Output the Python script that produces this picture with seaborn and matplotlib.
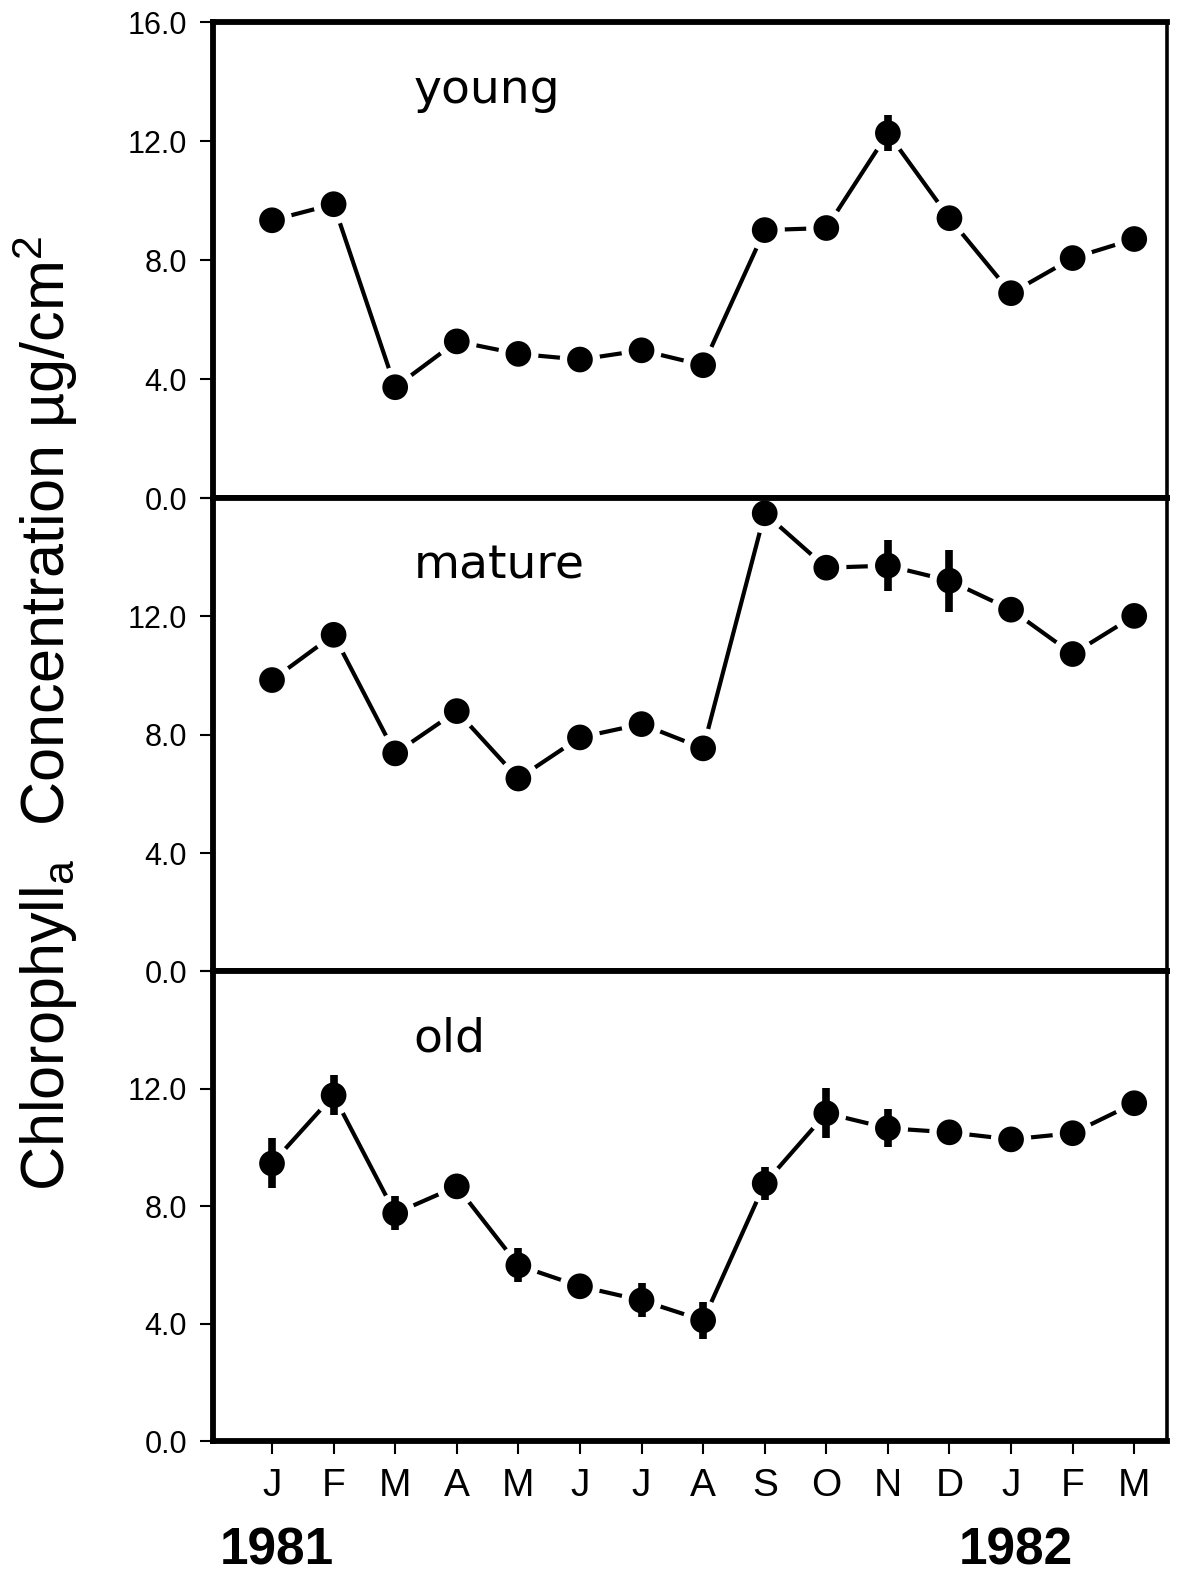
import numpy as np
import matplotlib
matplotlib.use("Agg")
import matplotlib.pyplot as plt
import matplotlib.transforms as mtransforms
import seaborn as sns

# ---------------- data ----------------
months = ["J", "F", "M", "A", "M", "J", "J", "A", "S", "O", "N", "D", "J", "F", "M"]
years = ["1981", "1982"]
year_month_index = [0, 12]
panel_names = ["young", "mature", "old"]

young = [9.34, 9.88, 3.73, 5.27, 4.85, 4.66, 4.97, 4.47, 9.01, 9.08, 12.27, 9.41, 6.89, 8.07, 8.71]
young_err = [0, 0, 0, 0, 0, 0, 0, 0, 0, 0, 0.6, 0, 0, 0, 0]

mature = [9.85, 11.38, 7.37, 8.80, 6.52, 7.91, 8.36, 7.54, 15.49, 13.65, 13.72, 13.21, 12.23, 10.73, 12.02]
mature_err = [0, 0, 0, 0, 0, 0, 0, 0, 0, 0, 0.85, 1.05, 0, 0, 0]

old = [9.46, 11.78, 7.76, 8.68, 5.99, 5.28, 4.80, 4.12, 8.78, 11.17, 10.66, 10.52, 10.28, 10.49, 11.51]
old_err = [0.85, 0.68, 0.58, 0, 0.58, 0, 0.58, 0.62, 0.55, 0.85, 0.65, 0, 0, 0, 0]

yticks = [0, 4, 8, 12, 16]
ytick_labels_top = ["0.0", "4.0", "8.0", "12.0", "16.0"]
ytick_labels_rest = ["0.0", "4.0", "8.0", "12.0", ""]
ylabel = r"Chlorophyll$_{\mathrm{a}}$  Concentration µg/cm$^{\mathrm{2}}$"

# ---------------- style ----------------
sns.set_theme(style="ticks")
plt.rcParams["font.family"] = ["Liberation Sans", "DejaVu Sans"]
plt.rcParams["mathtext.fontset"] = "custom"
plt.rcParams["mathtext.rm"] = "Liberation Sans"
plt.rcParams["mathtext.it"] = "Liberation Sans"

fig = plt.figure(figsize=(11.98, 15.75), dpi=100)
fig.patch.set_facecolor("white")

W, H = 1193.0, 1568.0
left = 212 / W
right = 1162 / W
edges = [22, 496, 967, 1435]

x = np.arange(len(months))
series = [(young, young_err), (mature, mature_err), (old, old_err)]

axes = []
for i, (vals, errs) in enumerate(series):
    top = 1 - edges[i] / H
    bot = 1 - edges[i + 1] / H
    ax = fig.add_axes([left, bot, right - left, top - bot])
    ax.set_facecolor("white")
    axes.append(ax)

    vals = np.array(vals)
    errs = np.array(errs)

    sns.lineplot(x=x, y=vals, ax=ax, color="black", lw=3, zorder=1.5,
                 estimator=None, sort=False)
    sns.scatterplot(x=x, y=vals, ax=ax, s=29 ** 2, color="white",
                    edgecolor="none", zorder=2, legend=False)
    m = errs > 0
    ax.errorbar(x[m], vals[m], yerr=errs[m], fmt="none", ecolor="black",
                elinewidth=5.5, capsize=0, zorder=3)
    sns.scatterplot(x=x, y=vals, ax=ax, s=18.5 ** 2, color="black",
                    edgecolor="none", zorder=3.5, legend=False)

    ax.set_xlim(-0.96, 14.53)
    ax.set_ylim(0, 16)
    ax.set_xlabel("")
    ax.set_ylabel("")
    ax.tick_params(axis="y", direction="out", length=9.5, width=1.5,
                   pad=9, color="black", labelcolor="black")
    ax.set_yticks(yticks)
    ax.set_yticklabels(ytick_labels_top if i == 0 else ytick_labels_rest,
                       fontsize=22, color="black")

    for s in ["left", "top", "bottom"]:
        ax.spines[s].set_linewidth(4.2)
        ax.spines[s].set_color("black")
        ax.spines[s].set_visible(True)
    ax.spines["right"].set_linewidth(2.6)
    ax.spines["right"].set_color("black")
    ax.spines["right"].set_visible(True)

    ax.text(2.3, 13.7, panel_names[i], ha="left", va="center",
            fontsize=34, family=["DejaVu Sans"], color="black")

    if i < 2:
        ax.set_xticks([])
    else:
        ax.tick_params(axis="x", direction="out", length=9.5, width=1.5,
                       pad=10, color="black", labelcolor="black")
        ax.set_xticks(x)
        ax.set_xticklabels(months, fontsize=28, color="black")

# year labels under the first J of each year
axb = axes[-1]
trans = mtransforms.blended_transform_factory(axb.transData, fig.transFigure)
for yr, idx in zip(years, year_month_index):
    fig.text(idx + 0.08, 1 - 1551 / 1575, yr, transform=trans, ha="center", va="center",
             fontsize=37, fontweight="bold", color="black")

fig.text(45 / W, 1 - 710 / H, ylabel, rotation=90, ha="center", va="center",
         fontsize=44, color="black")

fig.savefig("out.png", dpi=100, facecolor="white")
